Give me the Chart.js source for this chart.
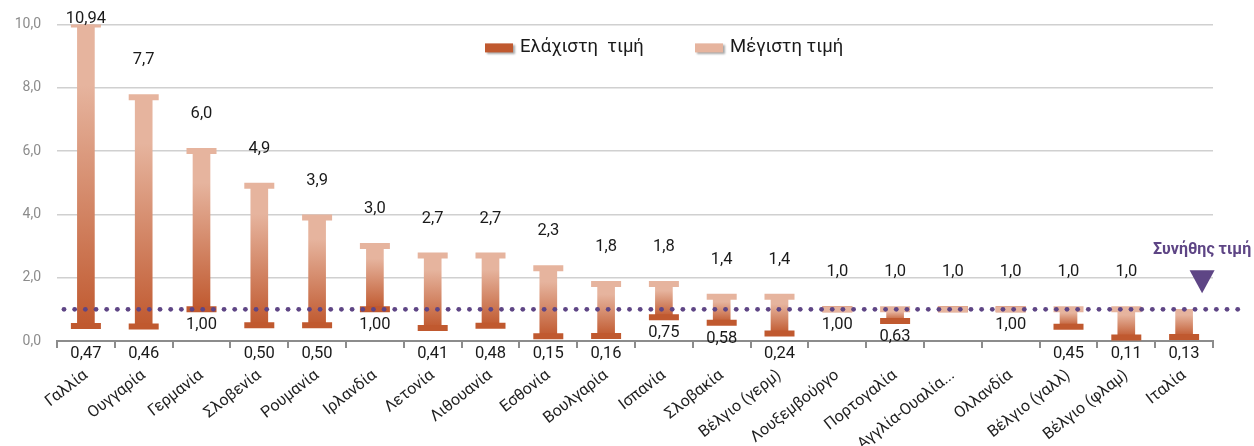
<!DOCTYPE html>
<html>
<head>
<meta charset="utf-8">
<script src="https://cdn.jsdelivr.net/npm/chart.js@4/dist/chart.umd.min.js"></script>
<style>
  html, body { margin: 0; padding: 0; background: #fff; }
  #wrap { width: 1254px; height: 446px; }
</style>
</head>
<body>
<div id="wrap"><canvas id="myChart" width="1254" height="446"></canvas></div>
<script>
// data
const categories = ['Γαλλία', 'Ουγγαρία', 'Γερμανία', 'Σλοβενία', 'Ρουμανία', 'Ιρλανδία', 'Λετονία',
  'Λιθουανία', 'Εσθονία', 'Βουλγαρία', 'Ισπανία', 'Σλοβακία', 'Βέλγιο (γερμ)', 'Λουξεμβούργο',
  'Πορτογαλία', 'Αγγλία-Ουαλία...', 'Ολλανδία', 'Βέλγιο (γαλλ)', 'Βέλγιο (φλαμ)', 'Ιταλία'];
const minValues = [0.47, 0.46, 1.00, 0.50, 0.50, 1.00, 0.41, 0.48, 0.15, 0.16, 0.75, 0.58, 0.24, 1.00, 0.63, 1.00, 1.00, 0.45, 0.11, 0.13];
const maxValues = [10.94, 7.7, 6.0, 4.9, 3.9, 3.0, 2.7, 2.7, 2.3, 1.8, 1.8, 1.4, 1.4, 1.0, 1.0, 1.0, 1.0, 1.0, 1.0, 1.0];
const minText = ['0,47', '0,46', '1,00', '0,50', '0,50', '1,00', '0,41', '0,48', '0,15', '0,16', '0,75', '0,58', '0,24', '1,00', '0,63', '', '1,00', '0,45', '0,11', '0,13'];
const maxText = ['10,94', '7,7', '6,0', '4,9', '3,9', '3,0', '2,7', '2,7', '2,3', '1,8', '1,8', '1,4', '1,4', '1,0', '1,0', '1,0', '1,0', '1,0', '1,0', ''];
const normalValue = 1.0;
const normalLabel = 'Συνήθης τιμή';
const seriesNames = ['Ελάχιστη  τιμή', 'Μέγιστη τιμή'];
const yMax = 10;

const dark = '#C0592F';
const light = '#E6B49E';
const purple = '#5E4585';
const font = 'Roboto';

function barGradient(c) {
  const chart = c.chart;
  if (!chart.chartArea) return dark;
  const y = chart.scales.y;
  const i = c.dataIndex;
  const y0 = y.getPixelForValue(minValues[i]);
  const y1 = y.getPixelForValue(Math.min(maxValues[i], yMax));
  if (Math.abs(y0 - y1) < 1) return light;
  const g = chart.ctx.createLinearGradient(0, y0, 0, y1);
  g.addColorStop(0, dark);
  g.addColorStop(0.8, light);
  g.addColorStop(1, light);
  return g;
}

const extras = {
  id: 'extras',
  afterDatasetsDraw(chart) {
    const ctx = chart.ctx;
    const area = chart.chartArea;
    const x = chart.scales.x;
    const y = chart.scales.y;
    ctx.save();

    // dotted "normal value" line
    const yy = y.getPixelForValue(normalValue);
    ctx.fillStyle = purple;
    for (let px = area.left + 7; px <= area.right + 27; px += 10.67) {
      ctx.beginPath();
      ctx.arc(px, yy, 2.4, 0, Math.PI * 2);
      ctx.fill();
    }

    // data labels
    ctx.fillStyle = '#1a1a1a';
    ctx.font = '16.5px ' + font;
    ctx.textAlign = 'center';
    ctx.textBaseline = 'middle';
    for (let i = 0; i < categories.length; i++) {
      const cx = x.getPixelForValue(i);
      if (maxText[i]) {
        const ty = Math.max(y.getPixelForValue(Math.min(maxValues[i], yMax)) - 37, 19);
        ctx.fillText(maxText[i], cx, ty);
      }
      if (minText[i]) {
        let ty = y.getPixelForValue(minValues[i]) + 16;
        if (minValues[i] < 0.55) ty = y.getPixelForValue(0) + 13;
        ctx.fillText(minText[i], cx, ty);
      }
    }

    // marker for the normal value
    const last = categories.length - 1;
    const mx = x.getPixelForValue(last) + 18;
    ctx.fillStyle = purple;
    ctx.beginPath();
    ctx.moveTo(mx - 12.5, yy - 39);
    ctx.lineTo(mx + 12.5, yy - 39);
    ctx.lineTo(mx, yy - 16);
    ctx.closePath();
    ctx.fill();
    ctx.font = 'bold 16px ' + font;
    ctx.fillText(normalLabel, mx, yy - 59);

    // legend inside the plot
    const lx = area.left + 428;
    const ly = area.top + 23;
    const items = [[dark, seriesNames[0], 0], [light, seriesNames[1], 210]];
    ctx.font = '18.5px ' + font;
    ctx.textAlign = 'left';
    items.forEach(function (it) {
      ctx.save();
      ctx.shadowColor = 'rgba(0,0,0,0.35)';
      ctx.shadowOffsetX = 2;
      ctx.shadowOffsetY = 2;
      ctx.shadowBlur = 2;
      ctx.fillStyle = it[0];
      ctx.fillRect(lx + it[2], ly - 4, 28, 9);
      ctx.restore();
      ctx.fillStyle = '#1a1a1a';
      ctx.fillText(it[1], lx + it[2] + 35, ly);
    });

    ctx.restore();
  }
};

const ctx = document.getElementById('myChart').getContext('2d');
const myChart = new Chart(ctx, {
  type: 'bar',
  data: {
    labels: categories,
    datasets: [{
      label: 'range',
      data: minValues.map(function (v, i) { return [v, Math.min(maxValues[i], yMax)]; }),
      backgroundColor: barGradient,
      borderWidth: 0,
      barThickness: 17,
      order: 3
    }, {
      type: 'line',
      label: seriesNames[0],
      data: minValues,
      showLine: false,
      pointStyle: 'line',
      pointRadius: 15,
      pointHoverRadius: 15,
      pointBorderWidth: 6,
      pointBorderColor: dark,
      borderColor: dark,
      backgroundColor: dark,
      order: 2
    }, {
      type: 'line',
      label: seriesNames[1],
      data: maxValues.map(function (v, i) { return maxText[i] ? Math.min(v, yMax) : null; }),
      showLine: false,
      pointStyle: 'line',
      pointRadius: 15,
      pointHoverRadius: 15,
      pointBorderWidth: 6,
      pointBorderColor: light,
      borderColor: light,
      backgroundColor: light,
      order: 1
    }]
  },
  options: {
    responsive: false,
    animation: false,
    devicePixelRatio: 1,
    layout: { padding: { top: 21, right: 41, left: 0, bottom: 0 } },
    plugins: {
      legend: { display: false },
      tooltip: { enabled: false }
    },
    scales: {
      x: {
        offset: true,
        grid: { display: true, drawOnChartArea: false, drawTicks: true, tickLength: 7, color: '#8c8c8c', lineWidth: 2, offset: true },
        border: { display: true, color: '#8c8c8c', width: 2 },
        ticks: {
          autoSkip: false,
          minRotation: 38,
          maxRotation: 38,
          padding: 18,
          color: '#1f1f1f',
          font: { family: font, size: 16 }
        },
        afterFit: function (s) { s.height = 105; }
      },
      y: {
        min: 0,
        max: yMax,
        ticks: {
          stepSize: 2,
          padding: 16,
          color: '#8c8c8c',
          font: { family: font, size: 14 },
          callback: function (v) { return v.toFixed(1).replace('.', ','); }
        },
        grid: { color: '#d0d0d0', lineWidth: 1.5, drawTicks: false },
        border: { display: false },
        afterFit: function (s) { s.width = 57; }
      }
    }
  },
  plugins: [extras]
});
</script>
</body>
</html>
